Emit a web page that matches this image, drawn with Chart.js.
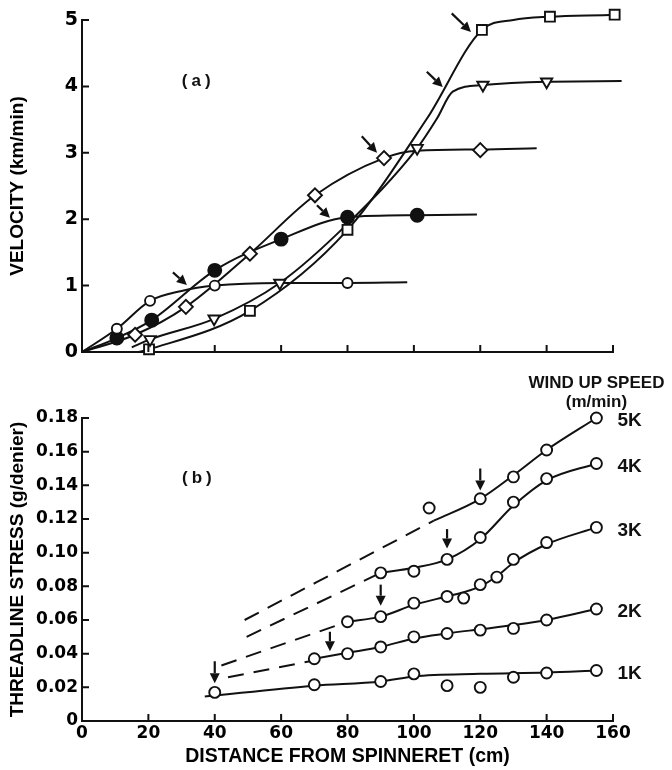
<!DOCTYPE html>
<html>
<head>
<meta charset="utf-8">
<script src="https://cdn.jsdelivr.net/npm/chart.js@4.4.0/dist/chart.umd.min.js"></script>
<style>
  html, body { margin: 0; padding: 0; background: #fff; }
  #wrap { position: relative; width: 672px; height: 770px; }
  canvas { position: absolute; left: 0; }
  #velocity_chart { top: 0; }
  #stress_chart { top: 375px; }
</style>
</head>
<body>
<div id="wrap">
  <canvas id="velocity_chart" width="672" height="375"></canvas>
  <canvas id="stress_chart" width="672" height="395"></canvas>
</div>
<script>
// ---------- (a) VELOCITY DATA  [distance cm, km/min] ----------
const vel1k_pts = [[10.5, 0.35], [20.5, 0.77], [40, 1.0], [80, 1.04]];
const vel2k_pts = [[10.5, 0.21], [21, 0.48], [40, 1.23], [60, 1.70], [80, 2.03], [101, 2.06]];
const vel3k_pts = [[16, 0.26], [31.3, 0.68], [50.6, 1.48], [70.2, 2.36], [91, 2.92], [120, 3.04]];
const vel4k_pts = [[20.5, 0.19], [39.8, 0.50], [59.6, 1.04], [101, 3.07], [120.8, 4.02], [140, 4.07]];
const vel5k_pts = [[20.2, 0.04], [50.6, 0.62], [80, 1.84], [120.5, 4.85], [141, 5.05], [160.5, 5.08]];

// smooth curves drawn through the data
const vel1k_fit = [[0, 0], [10.5, 0.35], [20.5, 0.77], [30, 0.92], [40, 1.0], [60, 1.04], [80, 1.04], [98, 1.05]];
const vel2k_fit = [[0, 0], [10.5, 0.21], [21, 0.48], [40, 1.23], [60, 1.70], [80, 2.03], [101, 2.06], [119, 2.07]];
const vel3k_fit = [[0, 0], [16, 0.26], [31.3, 0.68], [50.6, 1.48], [70.2, 2.36], [91, 2.92], [101, 3.03], [120, 3.05], [137, 3.07]];
const vel4k_fit = [[15, 0.07], [20.5, 0.19], [39.8, 0.50], [59.6, 1.04], [80, 1.93], [101, 3.07], [107, 3.52], [111.7, 3.92], [120.8, 4.02], [140, 4.07], [162.6, 4.08]];
const vel5k_fit = [[17, 0.0], [20.2, 0.04], [50.6, 0.62], [80, 1.84], [104, 3.52], [120.5, 4.85], [130, 5.0], [141, 5.05], [160.5, 5.08], [168, 5.1]];

// onset arrows [x1, y1, x2, y2] (tail -> tip)
const vel_arrows = [
  [27.4, 1.20, 31.6, 1.01],
  [70.8, 2.21, 74.7, 2.02],
  [84.3, 3.25, 88.9, 3.0],
  [103.9, 4.22, 108.7, 3.99],
  [111.4, 5.10, 117.2, 4.82]
];

// ---------- (b) STRESS DATA  [distance cm, g/denier] ----------
const speedLabels = ["1K", "2K", "3K", "4K", "5K"];
const st1k_pts = [[40, 0.017], [70, 0.0215], [90, 0.0235], [100, 0.028], [110, 0.021], [120, 0.020], [130, 0.026], [140, 0.0285], [155, 0.030]];
const st2k_pts = [[70, 0.037], [80, 0.040], [90, 0.044], [100, 0.050], [110, 0.052], [120, 0.054], [130, 0.055], [140, 0.060], [155, 0.0665]];
const st3k_pts = [[80, 0.059], [90, 0.062], [100, 0.070], [110, 0.074], [115, 0.073], [120, 0.081], [125, 0.0855], [130, 0.096], [140, 0.106], [155, 0.115]];
const st4k_pts = [[90, 0.088], [100, 0.089], [110, 0.096], [120, 0.109], [130, 0.130], [140, 0.144], [155, 0.153]];
const st5k_pts = [[104.6, 0.1265], [120, 0.132], [130, 0.145], [140, 0.161], [155, 0.180]];

const st1k_fit = [[37, 0.0145], [70, 0.021], [90, 0.0235], [100, 0.0265], [120, 0.028], [140, 0.0288], [155, 0.030]];
const st2k_fit = [[70, 0.037], [80, 0.0405], [90, 0.044], [100, 0.049], [110, 0.052], [120, 0.0545], [130, 0.057], [140, 0.060], [155, 0.0665]];
const st3k_fit = [[80, 0.059], [90, 0.062], [100, 0.069], [110, 0.074], [115, 0.0765], [120, 0.080], [125, 0.086], [130, 0.094], [140, 0.105], [155, 0.115]];
const st4k_fit = [[90, 0.088], [100, 0.091], [110, 0.096], [120, 0.108], [130, 0.128], [140, 0.143], [155, 0.153]];
const st5k_fit = [[106, 0.119], [120, 0.132], [130, 0.146], [140, 0.161], [155, 0.180]];

// extrapolated (dashed) parts
const st2k_dash = [[44, 0.026], [70, 0.036]];
const st3k_dash = [[42, 0.033], [80, 0.059]];
const st4k_dash = [[49.6, 0.050], [90, 0.088]];
const st5k_dash = [[49, 0.060], [106, 0.119]];

// vertical arrows [x, yTail, yTip]
const st_arrows = [[40, 0.0355, 0.0225], [74.7, 0.053, 0.0415], [90, 0.081, 0.0685], [110, 0.114, 0.1025], [120, 0.150, 0.137]];

// ---------- HELPERS ----------
const INK = "#111";
const NUM_FONT = "DejaVu Sans";
const TXT_FONT = "Liberation Sans";

function xy(points) {
  return points.map(p => ({ x: p[0], y: p[1] }));
}

function curve(points, dash) {
  return {
    data: xy(points),
    showLine: true,
    borderColor: INK,
    borderWidth: 2,
    borderDash: dash || [],
    pointRadius: 0,
    cubicInterpolationMode: "monotone",
    clip: false,
    order: 2
  };
}

function marks(points, style, r, fill, rot) {
  return {
    data: xy(points),
    showLine: false,
    pointStyle: style,
    pointRadius: r,
    pointBackgroundColor: fill,
    pointBorderColor: INK,
    pointBorderWidth: 1.9,
    pointRotation: rot || 0,
    clip: false,
    order: 1
  };
}

function drawArrow(ctx, x1, y1, x2, y2) {
  const ang = Math.atan2(y2 - y1, x2 - x1);
  const head = 10, half = 5;
  const bx = x2 - head * Math.cos(ang), by = y2 - head * Math.sin(ang);
  ctx.beginPath();
  ctx.moveTo(x1, y1);
  ctx.lineTo(bx, by);
  ctx.stroke();
  ctx.beginPath();
  ctx.moveTo(x2, y2);
  ctx.lineTo(bx + half * Math.sin(ang), by - half * Math.cos(ang));
  ctx.lineTo(bx - half * Math.sin(ang), by + half * Math.cos(ang));
  ctx.closePath();
  ctx.fill();
}

// inward tick marks, arrows and extra text
const decor = {
  id: "decor",
  afterDatasetsDraw(chart, args, opts) {
    const { ctx, chartArea: a, scales: { x, y } } = chart;
    ctx.save();
    ctx.strokeStyle = INK;
    ctx.fillStyle = INK;
    ctx.lineWidth = 2;
    ctx.beginPath();
    x.ticks.forEach(t => {
      if (t.value === 0) return;
      const px = x.getPixelForValue(t.value);
      ctx.moveTo(px, a.bottom);
      ctx.lineTo(px, a.bottom - 7);
    });
    y.ticks.forEach(t => {
      if (t.value === 0) return;
      const py = y.getPixelForValue(t.value);
      ctx.moveTo(a.left, py);
      ctx.lineTo(a.left + 7, py);
    });
    ctx.stroke();

    ctx.lineWidth = 2.2;
    (opts.arrows || []).forEach(r => {
      drawArrow(ctx, x.getPixelForValue(r[0]), y.getPixelForValue(r[1]),
                x.getPixelForValue(r[2]), y.getPixelForValue(r[3]));
    });
    (opts.vArrows || []).forEach(r => {
      const px = x.getPixelForValue(r[0]);
      drawArrow(ctx, px, y.getPixelForValue(r[1]), px, y.getPixelForValue(r[2]));
    });

    // panel letter
    ctx.font = "bold 17px " + TXT_FONT;
    ctx.textAlign = "center";
    ctx.textBaseline = "middle";
    ctx.letterSpacing = "4px";
    ctx.fillText(opts.panel.text, x.getPixelForValue(opts.panel.x), y.getPixelForValue(opts.panel.y));
    ctx.letterSpacing = "0px";

    if (opts.ends) {
      ctx.font = "bold 17px " + TXT_FONT;
      ctx.textAlign = "center";
      const cx = x.getPixelForValue(155);
      ctx.fillText("WIND UP SPEED", cx, 8);
      ctx.fillText("(m/min)", cx, 27);
      ctx.font = "bold 19px " + TXT_FONT;
      ctx.textAlign = "left";
      opts.ends.forEach((series, i) => {
        const last = series[series.length - 1];
        ctx.fillText(speedLabels[i], x.getPixelForValue(last[0]) + 21, y.getPixelForValue(last[1]) + 3);
      });
    }
    ctx.restore();
  }
};

function axisX(max, showLabels, height, title) {
  return {
    type: "linear",
    min: 0,
    max: max,
    grid: { display: false, drawTicks: false },
    border: { display: true, color: INK, width: 2 },
    ticks: {
      display: showLabels,
      stepSize: 20,
      padding: 2,
      color: "#000",
      font: { family: NUM_FONT, size: 17, weight: "bold" }
    },
    title: title ? {
      display: true,
      text: title,
      color: "#000",
      font: { family: TXT_FONT, size: 19.5, weight: "bold" },
      padding: { top: 0, bottom: 2 }
    } : { display: false },
    afterFit: s => { s.height = height; }
  };
}

function axisY(min, max, step, size, title, cb) {
  return {
    type: "linear",
    min: min,
    max: max,
    grid: { display: false, drawTicks: false },
    border: { display: true, color: INK, width: 2 },
    ticks: {
      stepSize: step,
      padding: 4,
      color: "#000",
      font: { family: NUM_FONT, size: size, weight: "bold" },
      callback: cb
    },
    title: {
      display: true,
      text: title,
      color: "#000",
      font: { family: TXT_FONT, size: 19, weight: "bold" },
      padding: { top: 6, bottom: 0 }
    },
    afterFit: s => { s.width = 82; }
  };
}

const common = {
  responsive: false,
  animation: false,
  events: [],
  plugins: { legend: { display: false }, tooltip: { enabled: false } }
};

// ---------- (a) ----------
new Chart(document.getElementById("velocity_chart"), {
  type: "scatter",
  data: {
    datasets: [
      marks(vel1k_pts, "circle", 5, "#fff"),
      marks(vel2k_pts, "circle", 6.5, INK),
      marks(vel3k_pts, "rectRot", 7, "#fff"),
      marks(vel4k_pts, "triangle", 6.5, "#fff", 180),
      marks(vel5k_pts, "rect", 7, "#fff"),
      curve(vel1k_fit), curve(vel2k_fit), curve(vel3k_fit), curve(vel4k_fit), curve(vel5k_fit)
    ]
  },
  options: {
    ...common,
    layout: { padding: { left: 0, top: 20, right: 59, bottom: 0 } },
    scales: {
      x: axisX(160, false, 23),
      y: axisY(0, 5, 1, 19, "VELOCITY (km/min)")
    },
    plugins: {
      ...common.plugins,
      decor: { arrows: vel_arrows, panel: { text: "(a)", x: 35, y: 4.07 } }
    }
  },
  plugins: [decor]
});

// ---------- (b) ----------
new Chart(document.getElementById("stress_chart"), {
  type: "scatter",
  data: {
    datasets: [
      marks(st1k_pts, "circle", 5.5, "#fff"),
      marks(st2k_pts, "circle", 5.5, "#fff"),
      marks(st3k_pts, "circle", 5.5, "#fff"),
      marks(st4k_pts, "circle", 5.5, "#fff"),
      marks(st5k_pts, "circle", 5.5, "#fff"),
      curve(st1k_fit), curve(st2k_fit), curve(st3k_fit), curve(st4k_fit), curve(st5k_fit),
      curve(st2k_dash, [16, 10]), curve(st3k_dash, [16, 10]),
      curve(st4k_dash, [16, 10]), curve(st5k_dash, [16, 10])
    ]
  },
  options: {
    ...common,
    layout: { padding: { left: 0, top: 43, right: 59, bottom: 0 } },
    scales: {
      x: axisX(160, true, 49, "DISTANCE FROM SPINNERET (cm)"),
      y: axisY(0, 0.18, 0.02, 17, "THREADLINE STRESS (g/denier)",
               v => (Math.abs(v) < 1e-9 ? "0" : v.toFixed(2)))
    },
    plugins: {
      ...common.plugins,
      decor: {
        vArrows: st_arrows,
        panel: { text: "(b)", x: 35.2, y: 0.1444 },
        ends: [st1k_pts, st2k_pts, st3k_pts, st4k_pts, st5k_pts]
      }
    }
  },
  plugins: [decor]
});
</script>
</body>
</html>
